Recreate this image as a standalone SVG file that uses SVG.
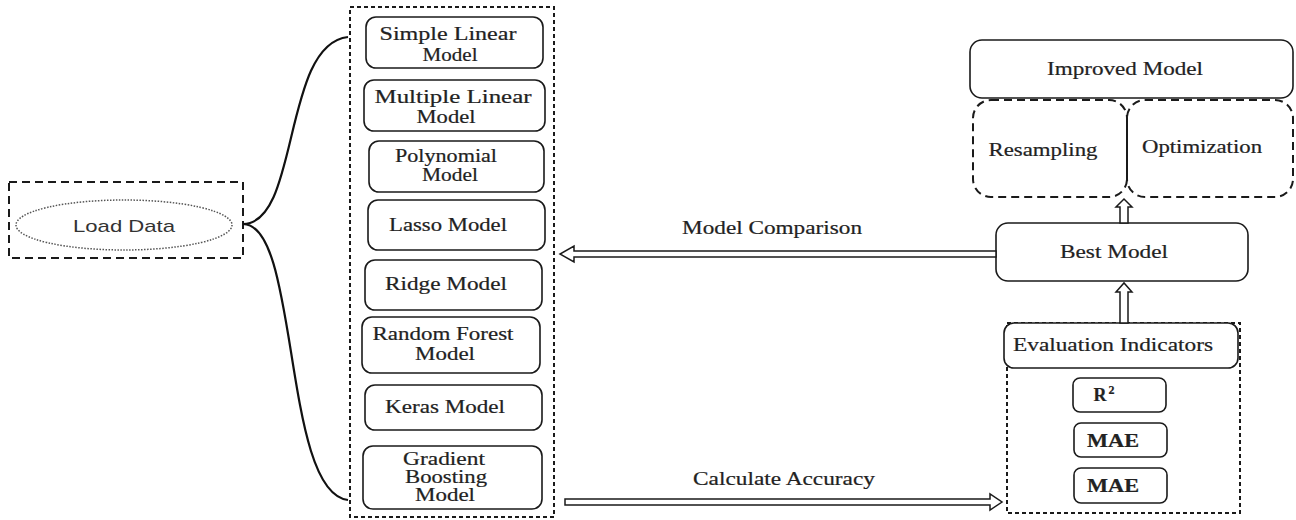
<svg xmlns="http://www.w3.org/2000/svg" width="1296" height="520" viewBox="0 0 1296 520">
<style>
.bg{fill:#fff}
.box{fill:#fff;stroke:#1a1a1a;stroke-width:1.6}
.dash{fill:none;stroke:#1a1a1a;stroke-width:2;stroke-dasharray:4 3}
.dashL{fill:none;stroke:#1a1a1a;stroke-width:2;stroke-dasharray:8 5}
.t{font-family:"Liberation Serif","Times New Roman",serif;font-size:18px;fill:#222;text-anchor:middle;stroke:#222;stroke-width:0.2}
.b{font-weight:bold}
.s{font-family:"Liberation Sans",Arial,sans-serif;font-size:17px;fill:#333;text-anchor:middle}
.arr{fill:#fff;stroke:#1a1a1a;stroke-width:1.5;stroke-linejoin:miter}
.brace{fill:none;stroke:#111;stroke-width:2.2}
</style>
<rect class="bg" x="0" y="0" width="1296" height="520"/>

<g id="load-data">
  <rect class="dashL" x="9" y="182" width="234" height="76"/>
  <ellipse cx="124" cy="225" rx="108" ry="25" fill="none" stroke="#555" stroke-width="1.5" stroke-dasharray="1.5 1.5"/>
  <text class="s" x="124" y="232" textLength="102" lengthAdjust="spacingAndGlyphs">Load Data</text>
</g>

<g id="models">
  <rect class="dash" x="350" y="7" width="204" height="510"/>
  <g id="simple-linear">
    <rect class="box" x="366" y="17" width="177" height="51" rx="10"/>
    <text class="t" x="448" y="40" textLength="137" lengthAdjust="spacingAndGlyphs">Simple Linear</text>
    <text class="t" x="450" y="61" textLength="55" lengthAdjust="spacingAndGlyphs">Model</text>
  </g>
  <g id="multiple-linear">
    <rect class="box" x="364" y="80" width="181" height="51" rx="10"/>
    <text class="t" x="453" y="103" textLength="157" lengthAdjust="spacingAndGlyphs">Multiple Linear</text>
    <text class="t" x="446" y="123" textLength="59" lengthAdjust="spacingAndGlyphs">Model</text>
  </g>
  <g id="polynomial">
    <rect class="box" x="369" y="141" width="175" height="51" rx="10"/>
    <text class="t" x="446" y="162" textLength="102" lengthAdjust="spacingAndGlyphs">Polynomial</text>
    <text class="t" x="450" y="181" textLength="56" lengthAdjust="spacingAndGlyphs">Model</text>
  </g>
  <g id="lasso">
    <rect class="box" x="368" y="200" width="177" height="50" rx="10"/>
    <text class="t" x="448" y="231" textLength="118" lengthAdjust="spacingAndGlyphs">Lasso Model</text>
  </g>
  <g id="ridge">
    <rect class="box" x="365" y="260" width="177" height="50" rx="10"/>
    <text class="t" x="446" y="290" textLength="122" lengthAdjust="spacingAndGlyphs">Ridge Model</text>
  </g>
  <g id="random-forest">
    <rect class="box" x="362" y="317" width="178" height="56" rx="10"/>
    <text class="t" x="443" y="340" textLength="141" lengthAdjust="spacingAndGlyphs">Random Forest</text>
    <text class="t" x="445" y="360" textLength="60" lengthAdjust="spacingAndGlyphs">Model</text>
  </g>
  <g id="keras">
    <rect class="box" x="365" y="385" width="177" height="45" rx="10"/>
    <text class="t" x="445" y="413" textLength="120" lengthAdjust="spacingAndGlyphs">Keras Model</text>
  </g>
  <g id="gradient-boosting">
    <rect class="box" x="363" y="446" width="179" height="63" rx="10"/>
    <text class="t" x="444" y="465" textLength="82" lengthAdjust="spacingAndGlyphs">Gradient</text>
    <text class="t" x="446" y="483" textLength="82" lengthAdjust="spacingAndGlyphs">Boosting</text>
    <text class="t" x="445" y="501" textLength="60" lengthAdjust="spacingAndGlyphs">Model</text>
  </g>
</g>

<g id="improved-model">
  <rect class="box" x="970" y="40" width="323" height="58" rx="12"/>
  <text class="t" x="1125" y="75" textLength="156" lengthAdjust="spacingAndGlyphs">Improved Model</text>
</g>
<g id="resampling">
  <rect class="dashL" x="973" y="100" width="154" height="97" rx="18"/>
  <text class="t" x="1043" y="156" textLength="109" lengthAdjust="spacingAndGlyphs">Resampling</text>
</g>
<g id="optimization">
  <rect class="dashL" x="1127" y="100" width="166" height="97" rx="18"/>
  <text class="t" x="1202" y="153" textLength="120" lengthAdjust="spacingAndGlyphs">Optimization</text>
</g>
<g id="best-model">
  <rect class="box" x="996" y="223" width="252" height="58" rx="12"/>
  <text class="t" x="1114" y="258" textLength="108" lengthAdjust="spacingAndGlyphs">Best Model</text>
</g>
<g id="evaluation">
  <rect class="dash" x="1007" y="323" width="233" height="190"/>
  <rect class="box" x="1004" y="323" width="234" height="45" rx="10"/>
  <text class="t" x="1113" y="351" textLength="200" lengthAdjust="spacingAndGlyphs">Evaluation Indicators</text>
  <g id="r2">
    <rect class="box" x="1073" y="378" width="93" height="34" rx="7"/>
    <text class="t b" x="1104" y="401" text-anchor="start" font-size="19">R<tspan font-size="12" dy="-7" dx="2">2</tspan></text>
  </g>
  <g id="mae1">
    <rect class="box" x="1074" y="423" width="93" height="34" rx="7"/>
    <text class="t b" x="1113" y="447" textLength="52" lengthAdjust="spacingAndGlyphs">MAE</text>
  </g>
  <g id="mae2">
    <rect class="box" x="1074" y="468" width="93" height="35" rx="7"/>
    <text class="t b" x="1113" y="492" textLength="52" lengthAdjust="spacingAndGlyphs">MAE</text>
  </g>
</g>

<g id="connectors">
  <path class="brace" d="M348,37 C282,44 300,224 243,224 C300,224 282,492 348,500"/>
  <polygon class="arr" points="996,251 574,251 574,246 560,254 574,262 574,257 996,257"/>
  <text class="t" x="772" y="234" textLength="180" lengthAdjust="spacingAndGlyphs">Model Comparison</text>
  <polygon class="arr" points="565,499 990,499 990,494 1002,502 990,510 990,505 565,505"/>
  <text class="t" x="784" y="485" textLength="182" lengthAdjust="spacingAndGlyphs">Calculate Accuracy</text>
  <polygon class="arr" points="1120,223 1120,207 1116,207 1124,199 1132,207 1128,207 1128,223"/>
  <polygon class="arr" points="1120,323 1120,292 1116,292 1124,283 1132,292 1128,292 1128,323"/>
</g>
</svg>
